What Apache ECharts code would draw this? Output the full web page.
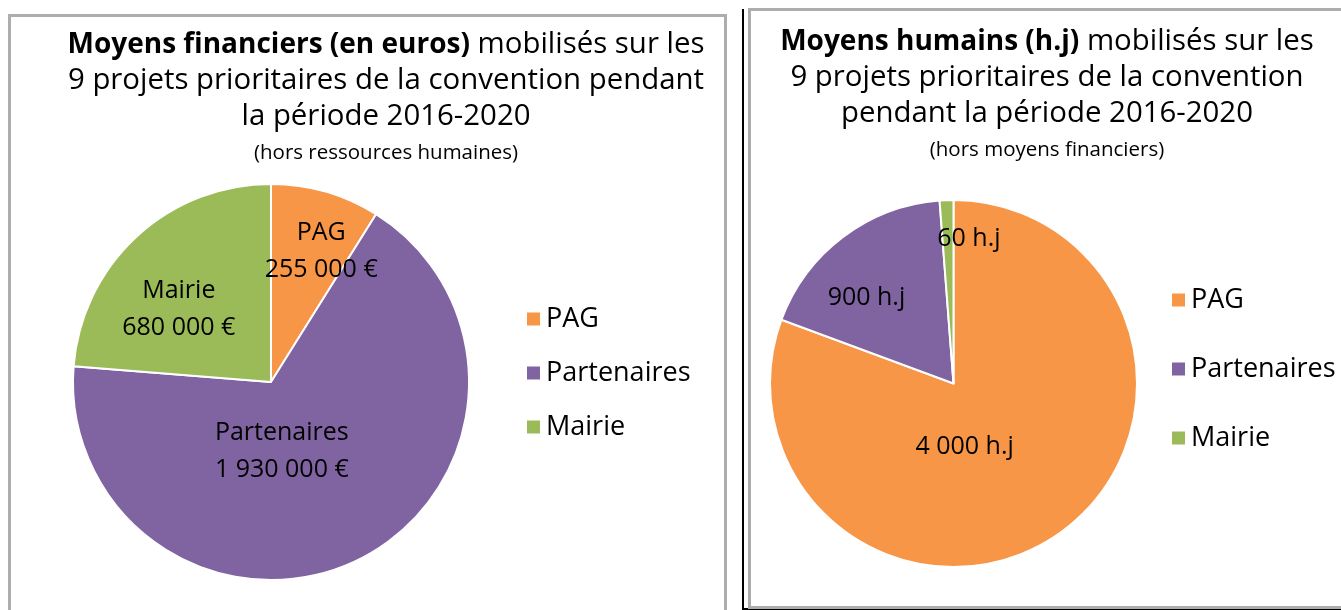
<!DOCTYPE html>
<html>
<head>
<meta charset="utf-8">
<script src="https://cdn.jsdelivr.net/npm/echarts@6/dist/echarts.min.js"></script>
<style>
html,body{margin:0;padding:0;background:#fff;}
#c{width:1341px;height:610px;}
</style>
</head>
<body>
<div id="c"></div>
<script>
// ---- data ----
const categories = ['PAG', 'Partenaires', 'Mairie'];
const financeValues = [255000, 1930000, 680000];   // euros
const humanValues = [4000, 900, 60];                // h.j
const colors = ['#F79646', '#8064A2', '#9BBB59'];

// label nudges (styling only)
const finNudge = [[22, -33], [-35, -22], [-23, 2]];
const humNudge = [[-43, -14], [-30, -10], [19, -50]];

function fmt(v) {
  return String(v).replace(/\B(?=(\d{3})+(?!\d))/g, ' ');
}

const titleFont = 'Open Sans';
const bodyFont = 'Open Sans';

const chart = echarts.init(document.getElementById('c'), null, {renderer: 'canvas'});

function richTitle() {
  return {
    b: {fontFamily: titleFont, fontWeight: 'bold', fontSize: 28, lineHeight: 36, color: '#000'},
    n: {fontFamily: titleFont, fontWeight: 'normal', fontSize: 29.4, lineHeight: 36, color: '#000'},
    s: {fontFamily: titleFont, fontWeight: 'normal', fontSize: 20.5, lineHeight: 36, color: '#000'}
  };
}

const option = {
  backgroundColor: '#fff',
  color: colors,
  animation: false,
  graphic: [
    {type: 'rect', z: 0, shape: {x: 9.5, y: 15.5, width: 716, height: 700},
     style: {fill: 'none', stroke: '#ADADAD', lineWidth: 3}},
    {type: 'polyline', z: 0, shape: {points: [[743, 9], [743, 609], [1345, 609]]},
     style: {fill: 'none', stroke: '#000', lineWidth: 2}},
    {type: 'rect', z: 0, shape: {x: 749.5, y: 9.5, width: 700, height: 598},
     style: {fill: 'none', stroke: '#ADADAD', lineWidth: 3}}
  ],
  title: [
    {
      left: 386, top: 27, textAlign: 'center', padding: 0,
      text: '{b|Moyens financiers (en euros)}{n| mobilisés sur les}\n{n|9 projets prioritaires de la convention pendant}\n{n|la période 2016-2020}\n{s|(hors ressources humaines)}',
      textStyle: {rich: richTitle()}
    },
    {
      left: 1047, top: 24, textAlign: 'center', padding: 0,
      text: '{b|Moyens humains (h.j)}{n| mobilisés sur les}\n{n|9 projets prioritaires de la convention}\n{n|pendant la période 2016-2020}\n{s|(hors moyens financiers)}',
      textStyle: {rich: richTitle()}
    }
  ],
  legend: [
    {
      orient: 'vertical', left: 520, top: 299, itemWidth: 15, itemHeight: 15, itemGap: 24,
      icon: 'rect', data: categories, selectedMode: false,
      textStyle: {fontFamily: bodyFont, fontSize: 27, lineHeight: 30, color: '#000'}
    },
    {
      orient: 'vertical', left: 1165, top: 280, itemWidth: 15, itemHeight: 15, itemGap: 39,
      icon: 'rect', data: categories, selectedMode: false,
      textStyle: {fontFamily: bodyFont, fontSize: 27, lineHeight: 30, color: '#000'}
    }
  ],
  series: [
    {
      type: 'pie', center: [271, 382], radius: 198, startAngle: 90, clockwise: true,
      itemStyle: {borderColor: '#fff', borderWidth: 2},
      label: {
        show: true, position: 'inside', fontFamily: bodyFont, fontSize: 25, lineHeight: 37, color: '#000',
        formatter: p => p.name + '\n' + fmt(p.value) + ' €'
      },
      labelLine: {show: false},
      emphasis: {disabled: true},
      data: categories.map((n, i) => ({
        name: n, value: financeValues[i],
        label: {offset: finNudge[i]}
      }))
    },
    {
      type: 'pie', center: [953.5, 383.5], radius: 183.5, startAngle: 90, clockwise: true,
      itemStyle: {borderColor: '#fff', borderWidth: 2},
      label: {
        show: true, position: 'inside', fontFamily: bodyFont, fontSize: 25, lineHeight: 37, color: '#000',
        formatter: p => fmt(p.value) + ' h.j'
      },
      labelLine: {show: false},
      emphasis: {disabled: true},
      data: categories.map((n, i) => ({
        name: n, value: humanValues[i],
        label: {offset: humNudge[i]}
      }))
    }
  ]
};
chart.setOption(option);
</script>
</body>
</html>
